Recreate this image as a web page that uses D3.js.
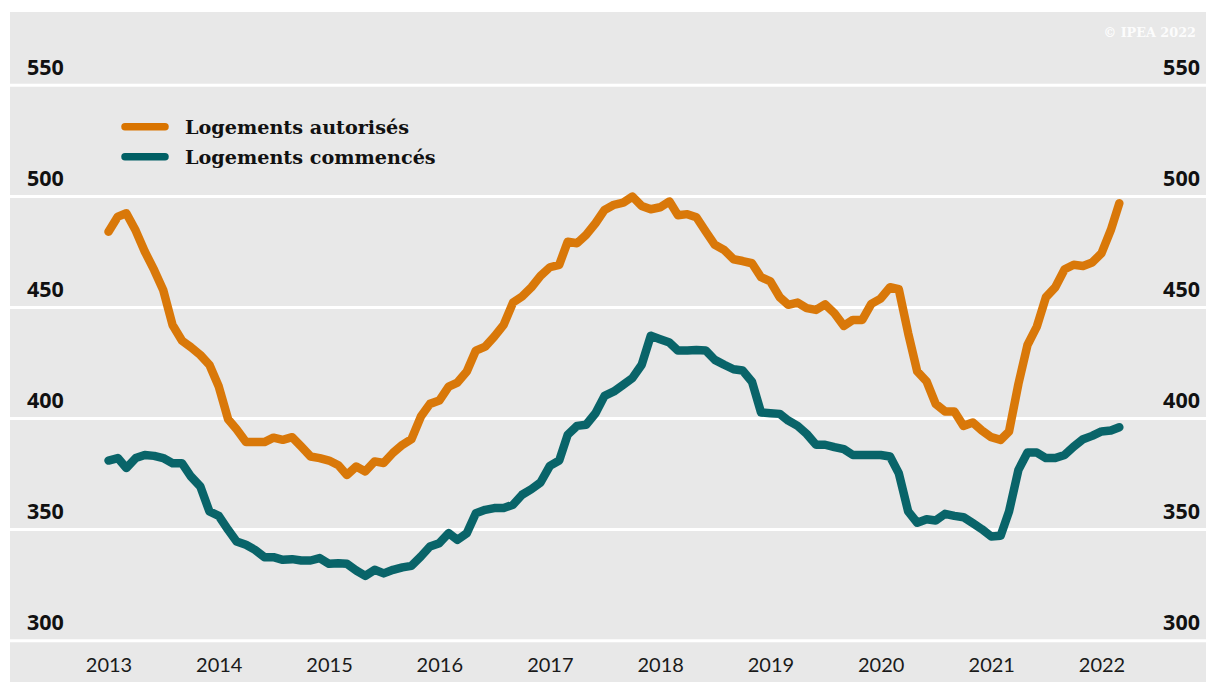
<!DOCTYPE html>
<html>
<head>
<meta charset="utf-8">
<script src="https://cdn.jsdelivr.net/npm/d3@7"></script>
<style>
  html, body { margin: 0; padding: 0; background: #ffffff; }
  svg { display: block; }
</style>
</head>
<body>
<svg id="chart" width="1206" height="682"></svg>
<script>
// Monthly series, January 2013 to March 2022 (thousands of dwellings)
const startYear = 2013;
const startMonth = 0;

const autorises = [
  484.1, 490.9, 492.4, 484.6, 475.2, 466.9, 457.9, 442.1, 435.1, 432.1, 428.6, 424.2,
  414.4, 399.7, 395.2, 389.4, 389.4, 389.4, 391.4, 390.4, 391.6, 387.4, 382.9, 382.2,
  381.1, 379.0, 374.6, 378.4, 376.2, 380.7, 380.0, 384.6, 388.2, 390.7, 400.9, 406.6,
  408.1, 414.4, 416.2, 421.2, 430.6, 432.4, 436.9, 442.2, 452.2, 454.9, 459.1, 464.2,
  468.1, 469.2, 479.6, 478.9, 482.7, 487.9, 493.9, 496.2, 497.2, 499.9, 495.7, 494.2,
  495.1, 497.7, 491.5, 492.0, 490.6, 484.2, 478.2, 475.9, 471.7, 470.9, 469.9, 463.6,
  461.7, 454.6, 451.2, 452.2, 449.7, 448.9, 451.4, 447.4, 441.7, 444.4, 444.4, 451.6,
  454.0, 459.1, 458.2, 438.4, 421.2, 416.7, 406.6, 403.2, 403.2, 396.7, 398.2, 394.6,
  391.6, 390.4, 394.2, 415.6, 433.1, 441.4, 454.6, 459.1, 467.2, 469.2, 468.7, 470.2,
  474.4, 484.9, 496.9
];

const commences = [
  381.1, 382.2, 377.7, 382.2, 383.6, 383.2, 382.2, 379.9, 379.9, 373.9, 369.4, 358.2,
  356.2, 349.9, 344.7, 343.2, 340.9, 337.6, 337.6, 336.4, 336.7, 336.1, 336.1, 337.2,
  334.6, 334.9, 334.6, 331.6, 329.2, 331.9, 330.3, 331.9, 333.0, 333.7, 337.9, 342.4,
  343.9, 348.4, 345.4, 348.4, 357.4, 358.9, 359.7, 359.7, 361.2, 365.7, 368.2, 371.2,
  378.7, 381.1, 392.7, 396.7, 397.2, 402.4, 410.2, 412.2, 415.2, 418.2, 424.2, 437.3,
  435.7, 434.2, 430.6, 430.6, 430.9, 430.6, 426.4, 424.2, 422.2, 421.6, 416.6, 402.7,
  402.4, 402.1, 399.1, 396.7, 393.1, 388.2, 388.2, 387.1, 386.2, 383.6, 383.6, 383.6,
  383.6, 382.9, 375.4, 358.2, 353.1, 354.7, 354.1, 357.1, 356.2, 355.6, 352.9, 350.2,
  346.9, 347.2, 358.2, 376.9, 384.7, 384.7, 382.2, 382.2, 383.6, 387.4, 390.7, 392.2,
  394.2, 394.6, 396.1
];

const seriesNames = ["Logements autorisés", "Logements commencés"];
const seriesColors = ["#d97400", "#005f64"];

const yTicks = [300, 350, 400, 450, 500, 550];
const xTickYears = [2013, 2014, 2015, 2016, 2017, 2018, 2019, 2020, 2021, 2022];

const credit = "© IPEA 2022";

// ---- layout ----
const W = 1206, H = 682;
const panel = { x: 10, y: 12 };

const svg = d3.select("#chart");

const x = d3.scaleTime()
  .domain([new Date(2013, 0, 1), new Date(2022, 0, 1)])
  .range([108.5, 1101.5]);

const y = d3.scaleLinear()
  .domain([300, 550])
  .range([640.7, 85.3]);

const monthDate = i => new Date(startYear, startMonth + i, 1);

// panel background
svg.append("rect")
  .attr("x", panel.x).attr("y", panel.y)
  .attr("width", W - panel.x).attr("height", H - panel.y)
  .attr("fill", "#e8e8e8");

// horizontal grid
svg.append("g")
  .selectAll("line")
  .data(yTicks)
  .join("line")
  .attr("x1", panel.x).attr("x2", W)
  .attr("y1", d => y(d)).attr("y2", d => y(d))
  .attr("stroke", "#ffffff")
  .attr("stroke-width", 3);

// value labels, both sides, above each grid line
const labelFont = "'Noto Sans', 'Open Sans', sans-serif";
const yLab = svg.append("g")
  .attr("font-family", labelFont)
  .attr("font-weight", 700)
  .attr("font-size", 21.5)
  .attr("fill", "#111111");
yLab.selectAll("text.l")
  .data(yTicks)
  .join("text")
  .attr("class", "l")
  .attr("x", 27)
  .attr("y", d => y(d) - 10.5)
  .text(d => d);
yLab.selectAll("text.r")
  .data(yTicks)
  .join("text")
  .attr("class", "r")
  .attr("x", 1200)
  .attr("y", d => y(d) - 10.5)
  .attr("text-anchor", "end")
  .text(d => d);

// year axis
const xAxis = d3.axisBottom(x)
  .tickValues(xTickYears.map(yr => new Date(yr, 0, 1)))
  .tickFormat(d3.timeFormat("%Y"))
  .tickSize(0)
  .tickPadding(0);

const gx = svg.append("g")
  .attr("transform", "translate(0,656)")
  .call(xAxis);
gx.select(".domain").remove();
gx.selectAll("text")
  .attr("font-family", "Lato, sans-serif")
  .attr("font-size", 20)
  .attr("fill", "#1a1a1a")
  .attr("dy", "0.8em");

// series lines
const line = d3.line()
  .x((d, i) => x(monthDate(i)))
  .y(d => y(d));

[autorises, commences].forEach((vals, k) => {
  svg.append("path")
    .datum(vals)
    .attr("d", line)
    .attr("fill", "none")
    .attr("stroke", seriesColors[k])
    .attr("stroke-width", 8.5)
    .attr("stroke-linejoin", "round")
    .attr("stroke-linecap", "round")
    .attr("stroke-opacity", 0.96);
});

// legend
const legend = svg.append("g");
seriesNames.forEach((name, k) => {
  const ly = 126.7 + k * 30;
  legend.append("line")
    .attr("x1", 125).attr("x2", 165)
    .attr("y1", ly).attr("y2", ly)
    .attr("stroke", seriesColors[k])
    .attr("stroke-width", 7.5)
    .attr("stroke-linecap", "round");
  legend.append("text")
    .attr("x", 185)
    .attr("y", ly + 7)
    .attr("font-family", "'DejaVu Serif', serif")
    .attr("font-weight", 700)
    .attr("font-size", 19.2)
    .attr("fill", "#111111")
    .text(name);
});

// credit line
svg.append("text")
  .attr("x", 1196)
  .attr("y", 37)
  .attr("text-anchor", "end")
  .attr("font-family", "'DejaVu Serif', serif")
  .attr("font-weight", 700)
  .attr("font-size", 12.8)
  .attr("fill", "#ffffff")
  .attr("fill-opacity", 0.9)
  .text(credit);
</script>
</body>
</html>
